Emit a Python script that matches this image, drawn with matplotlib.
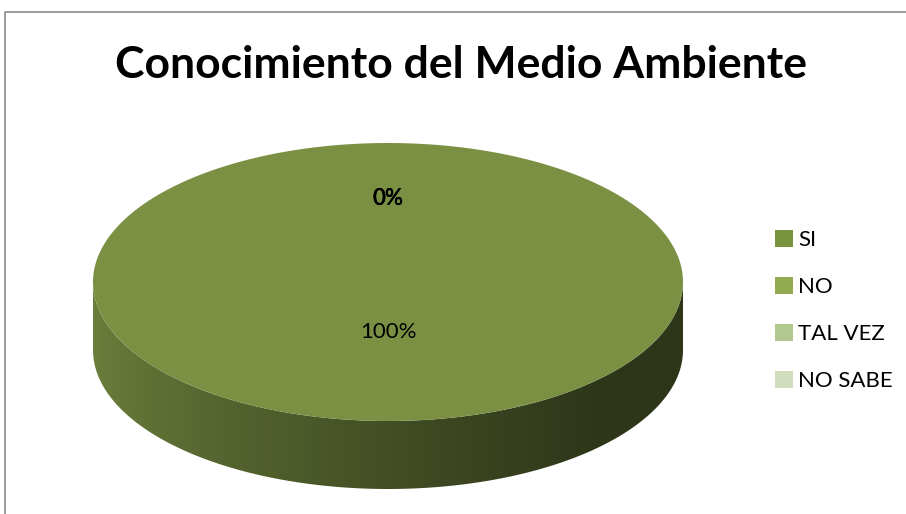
import numpy as np
import matplotlib
matplotlib.use("Agg")
import matplotlib.pyplot as plt
from matplotlib.patches import Polygon, Patch
from matplotlib.colors import to_rgb

plt.rcParams['font.family'] = ['Lato', 'DejaVu Sans']

# Data
categories = ['SI', 'NO', 'TAL VEZ', 'NO SABE']
values = [0, 100, 0, 0]
colors = ['#77933C', '#92AB50', '#B1C88E', '#D1DDBD']
title = 'Conocimiento del Medio Ambiente'

# Geometry of the 3D pie (pixel coords, y down)
cx, cy = 388, 282
a, b = 295, 139
depth = 68
top_shade = 0.84

fig = plt.figure(figsize=(9.06, 5.14), dpi=100)
ax = fig.add_axes([0, 0, 1, 1])
ax.set_xlim(0, 906)
ax.set_ylim(514, 0)
ax.axis('off')

# chart frame (cropped on right / bottom)
ax.plot([5, 5, 906], [514, 12, 12], color='#8a8a8a', lw=1.2)


def pt(theta, dy=0):
    # theta in radians, clockwise from 12 o'clock
    return cx + a * np.sin(theta), cy - b * np.cos(theta) + dy


def shade(c, f):
    return tuple(np.clip(np.array(to_rgb(c)) * f, 0, 1))


total = sum(values)
fracs = np.array(values) / total
ends = np.cumsum(fracs) * 2 * np.pi
starts = ends - fracs * 2 * np.pi

# side faces (front half only: theta between pi/2 and 3pi/2)
for s, e, c in zip(starts, ends, colors):
    lo, hi = max(s, np.pi / 2), min(e, 3 * np.pi / 2)
    if hi <= lo:
        continue
    th = np.linspace(lo, hi, 200)
    x1, y1 = pt(th)
    x2, y2 = pt(th[::-1], depth)
    poly = Polygon(np.column_stack([np.r_[x1, x2], np.r_[y1, y2]]),
                   closed=True, facecolor='none', edgecolor='none')
    ax.add_patch(poly)
    t = np.linspace(0, 1, 300)
    f = 0.74 - 0.42 * np.clip(t / 0.85, 0, 1) ** 0.75
    grad = np.array([shade(c, v) for v in f])[None, :, :]
    im = ax.imshow(grad, extent=[cx - a, cx + a, cy + b + depth, cy - 2],
                   aspect='auto', interpolation='bilinear', zorder=1)
    im.set_clip_path(poly)

# top faces
for s, e, c in zip(starts, ends, colors):
    if e - s <= 0:
        continue
    th = np.linspace(s, e, 400)
    x, y = pt(th)
    if e - s < 2 * np.pi - 1e-9:
        x, y = np.r_[cx, x], np.r_[cy, y]
    ax.add_patch(Polygon(np.column_stack([x, y]), closed=True,
                         facecolor=shade(c, top_shade), edgecolor='none', zorder=2))

# data labels (the zero slices sit on top of each other)
for s, e, v in zip(starts, ends, values):
    mid = (s + e) / 2
    r = 0.6 if v < total else 0.36
    lx, ly = cx + r * a * np.sin(mid), cy - r * b * np.cos(mid)
    ax.text(lx, ly, f'{v / total:.0%}', fontsize=16, ha='center', va='center',
            color='black', fontweight='semibold' if v == 0 else 'normal', zorder=3)

ax.text(461, 78, title, fontsize=32, fontweight='bold', ha='center',
        va='baseline', color='black')

handles = [Patch(facecolor=c, edgecolor='none') for c in colors]
ax.legend(handles, categories, loc='upper left', bbox_to_anchor=(764, 219),
          bbox_transform=ax.transData, frameon=False, fontsize=16,
          handlelength=0.8, handleheight=0.8, handletextpad=0.25,
          labelspacing=1.2, borderpad=0)

plt.savefig('out.png', dpi=100)
